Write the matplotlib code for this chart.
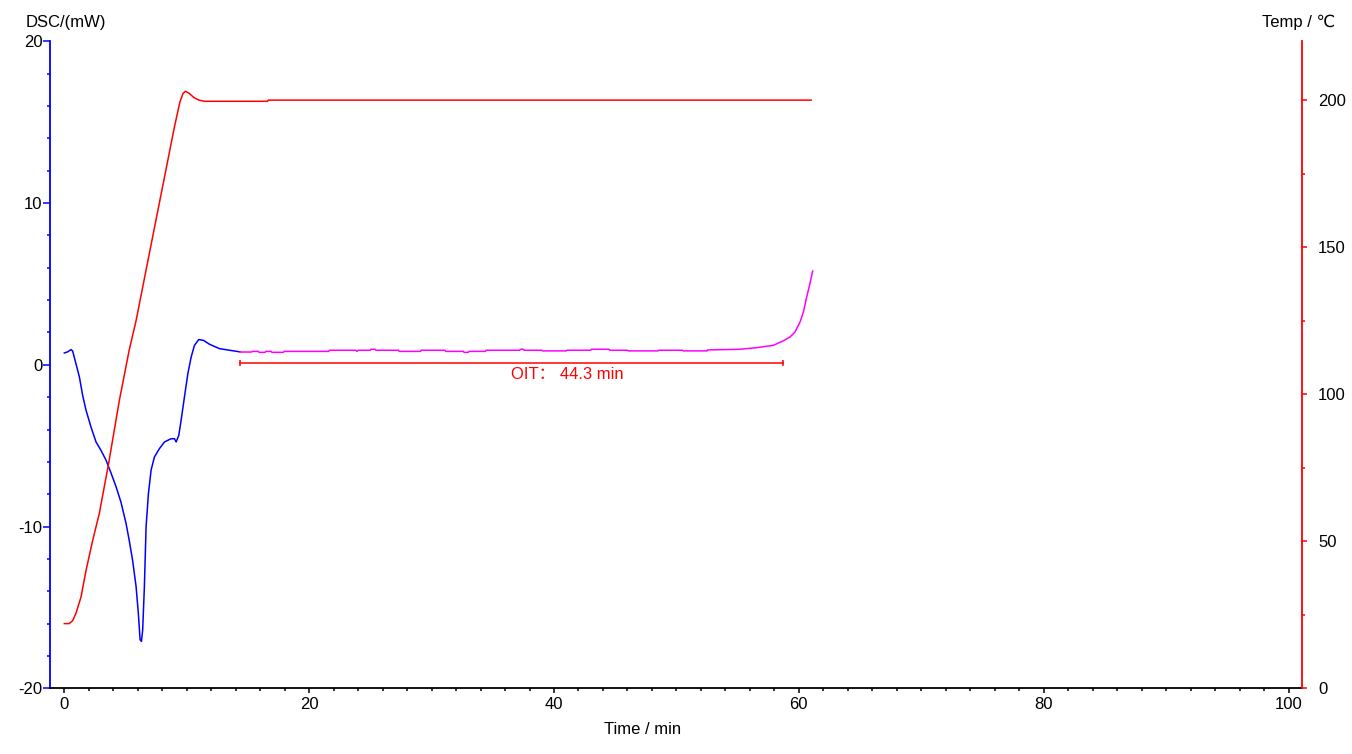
import matplotlib
matplotlib.use("Agg")
import matplotlib.pyplot as plt
from matplotlib.ticker import MultipleLocator

plt.rcParams['font.family'] = ['Liberation Sans', 'DejaVu Sans', 'Noto Sans CJK SC']
plt.rcParams['axes.unicode_minus'] = False

# ---- data ----
# Temperature program (red, right axis)
t_temp = [0, 0.4, 0.68, 0.95, 1.36, 1.77, 2.3, 2.86, 3.6, 4.5, 5.3, 5.86, 7.0, 8.0, 9.0,
          9.45, 9.7, 9.9, 10.2, 10.6, 11.0, 11.45, 16.6, 16.65, 61.0]
temp = [22, 22, 23, 25.5, 31, 40, 50, 59.5, 76, 98, 115, 125, 149, 170, 191,
        199.5, 202.3, 203, 202.3, 200.8, 200, 199.6, 199.6, 200, 200]

# DSC heating segment (blue, left axis)
t_dsc = [0, 0.27, 0.55, 0.68, 0.95, 1.23, 1.5, 1.77, 2.18, 2.59, 3.0, 3.41, 3.82, 4.23,
         4.63, 5.04, 5.3, 5.58, 5.86, 6.05, 6.19, 6.3, 6.4, 6.54, 6.68, 6.87, 7.09, 7.36,
         7.77, 8.18, 8.72, 9.0, 9.13, 9.35, 9.54, 9.81, 10.09, 10.36, 10.63, 10.98, 11.37,
         11.86, 12.67, 13.49, 14.35]
dsc = [0.73, 0.8, 0.94, 0.85, 0.07, -0.75, -1.9, -2.8, -3.85, -4.77, -5.3, -5.9, -6.7, -7.55,
       -8.5, -9.8, -10.85, -12.1, -13.7, -15.4, -17.0, -17.1, -16.4, -13.7, -10.0, -7.96, -6.5, -5.7,
       -5.18, -4.77, -4.57, -4.57, -4.77, -4.36, -3.43, -2.0, -0.55, 0.48, 1.2, 1.56, 1.51,
       1.27, 1.0, 0.9, 0.8]

# DSC isothermal segment (magenta, left axis)
t_iso = [14.35, 15.3, 15.35, 15.85, 15.9, 16.4, 16.45, 16.9, 16.95, 17.9, 17.95, 21.6, 21.65,
         23.8, 23.9, 24.0, 25.0, 25.05, 25.4, 25.45, 27.3, 27.35, 29.1, 29.15, 31.1, 31.15,
         32.6, 32.65, 33.0, 33.05, 34.4, 34.45, 37.2, 37.25, 37.5, 37.55, 39.0, 39.05, 41.0,
         41.05, 43.0, 43.05, 44.5, 44.55, 46.0, 46.05, 48.5, 48.55, 50.5, 50.55, 52.5, 52.55,
         54.0, 55.2, 56.55, 57.9, 58.7, 59.28, 59.69, 60.1, 60.37, 60.64, 60.9, 61.13]
dsc_iso = [0.79, 0.79, 0.83, 0.83, 0.77, 0.77, 0.83, 0.83, 0.77, 0.77, 0.83, 0.83, 0.9,
           0.9, 0.83, 0.9, 0.9, 0.96, 0.96, 0.9, 0.9, 0.83, 0.83, 0.9, 0.9, 0.83,
           0.83, 0.77, 0.77, 0.83, 0.83, 0.9, 0.9, 0.96, 0.96, 0.9, 0.9, 0.86, 0.86,
           0.9, 0.9, 0.96, 0.96, 0.9, 0.9, 0.86, 0.86, 0.9, 0.9, 0.86, 0.86, 0.92,
           0.94, 0.96, 1.06, 1.2, 1.47, 1.72, 2.03, 2.65, 3.26, 4.19, 5.0, 5.8]

oit_start, oit_end, oit_level = 14.35, 58.7, 0.1
oit_label = "OIT： 44.3 min"
oit_label_pos = (41.1, -0.63)

x_ticks = [0, 20, 40, 60, 80, 100]
y_left_ticks = [-20, -10, 0, 10, 20]
y_right_ticks = [0, 50, 100, 150, 200]

BLUE, RED, MAG = '#0000FF', '#FF0000', '#FF00FF'
FS = 12

fig = plt.figure(figsize=(13.52, 7.54), dpi=100)
ax = fig.add_axes([50/1352, 65.7/754, 1252/1352, 647/754])
ax2 = ax.twinx()

ax.plot(t_dsc, dsc, color=BLUE, lw=1.1, zorder=3)
ax.plot(t_iso, dsc_iso, color=MAG, lw=1.1, zorder=3)
ax.plot([oit_start, oit_end], [oit_level, oit_level], color=RED, lw=1.1,
        marker='|', markersize=5, markeredgewidth=1.1, zorder=3)
ax.text(oit_label_pos[0], oit_label_pos[1], oit_label, color=RED, fontsize=FS,
        ha='center', va='center', family=['Liberation Sans', 'Noto Sans CJK SC'])

ax2.plot(t_temp, temp, color=RED, lw=1.1)

ax.set_xlim(-1.17, 101.1)
ax.set_ylim(-20, 20)
ax2.set_ylim(0, 220)

ax.set_xticks(x_ticks)
ax.xaxis.set_minor_locator(MultipleLocator(2))
ax.set_yticks(y_left_ticks)
ax.yaxis.set_minor_locator(MultipleLocator(2))
ax2.set_yticks(y_right_ticks)
ax2.yaxis.set_minor_locator(MultipleLocator(25))

for a in (ax, ax2):
    a.spines['top'].set_visible(False)
ax.spines['right'].set_visible(False)
ax2.spines['left'].set_visible(False)
ax2.spines['bottom'].set_visible(False)
ax.spines['left'].set_color(BLUE)
ax.spines['left'].set_linewidth(1.3)
ax.spines['bottom'].set_color('black')
ax.spines['bottom'].set_linewidth(1.3)
ax2.spines['right'].set_color(RED)
ax2.spines['right'].set_linewidth(1.3)

ax.tick_params(axis='y', which='major', length=5, width=1.1, color=BLUE, pad=0.5, labelsize=FS)
ax.tick_params(axis='y', which='minor', length=2.5, width=1.1, color=BLUE)
ax.tick_params(axis='x', which='major', length=3.6, width=1.1, color='black', pad=3, labelsize=FS)
ax.tick_params(axis='x', which='minor', length=2.5, width=1.1, color='black')
ax2.tick_params(axis='y', which='major', length=3.6, width=1.1, color=RED, pad=8, labelsize=FS)
ax2.tick_params(axis='y', which='minor', length=2.2, width=1.1, color=RED)

fig.text(26/1352, 1 - 23/754, "DSC/(mW)", fontsize=FS, ha='left', va='center')
fig.text(1335/1352, 1 - 22/754, "Temp / ℃", fontsize=FS, ha='right', va='center',
         family=['Liberation Sans', 'DejaVu Sans', 'Noto Sans CJK SC'])
fig.text(643/1352, 1 - 729/754, "Time / min", fontsize=FS, ha='center', va='center')

fig.savefig("out.png", dpi=100)
